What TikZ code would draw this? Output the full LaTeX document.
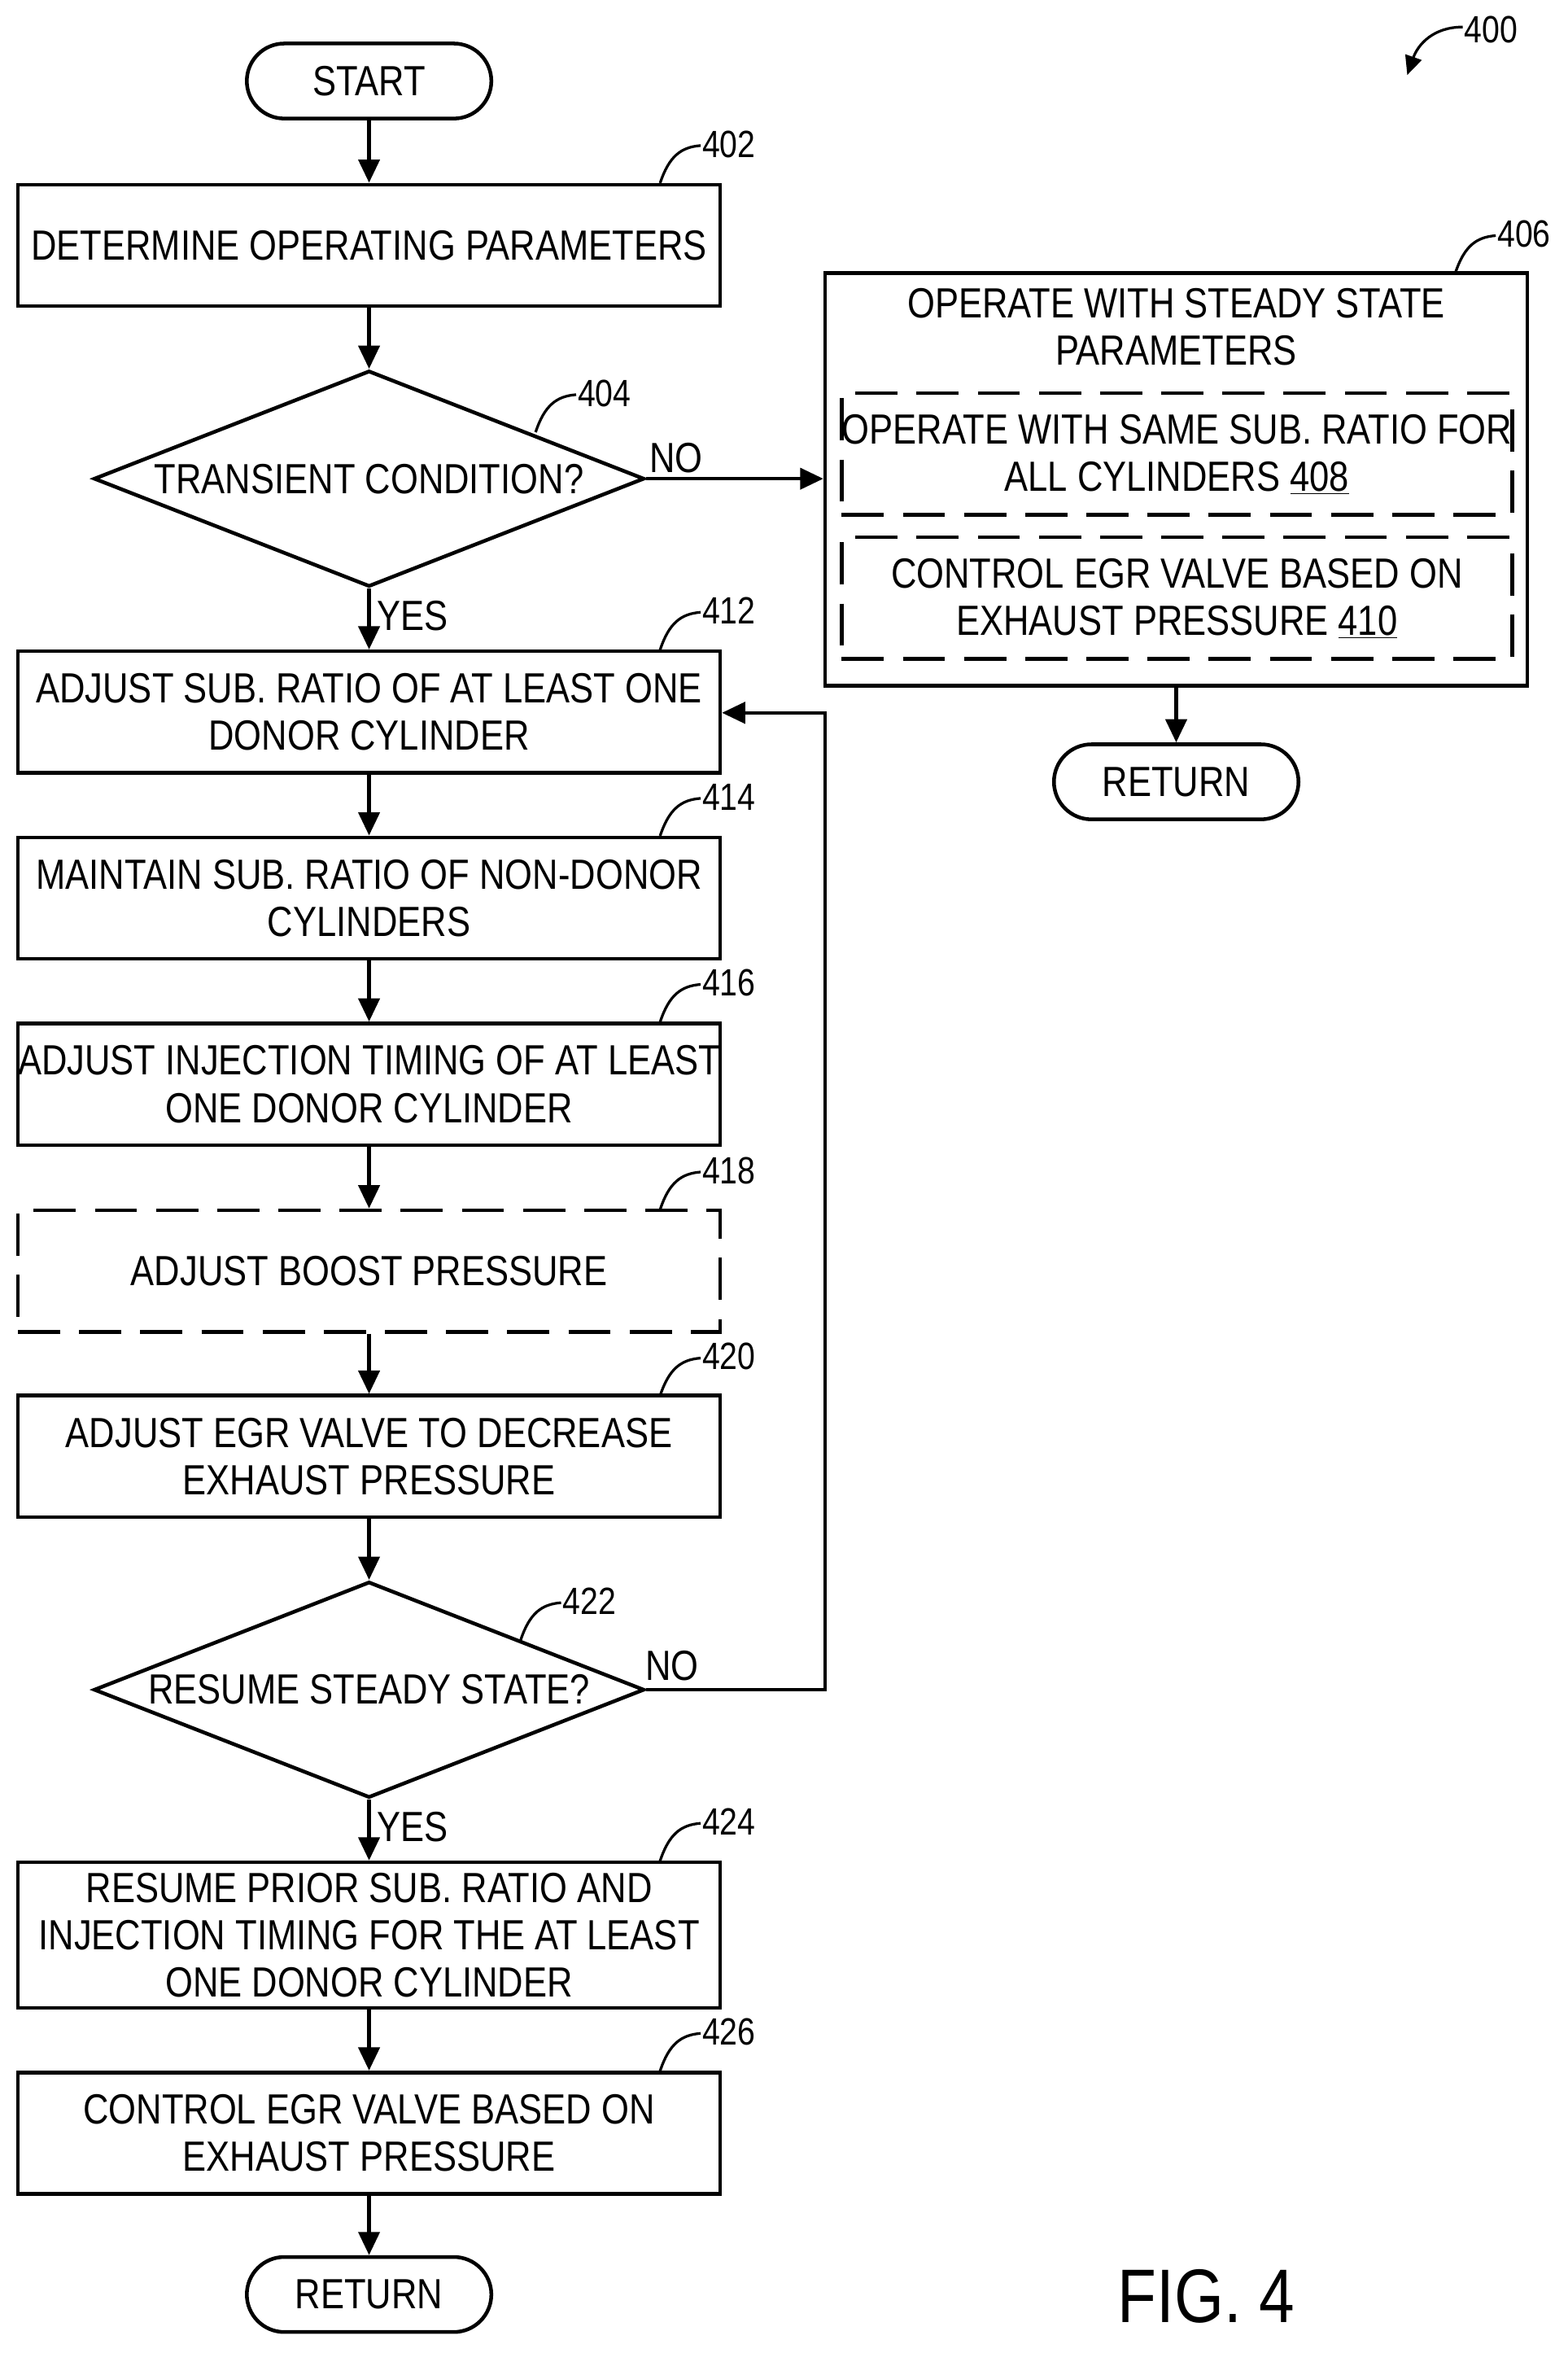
\documentclass[tikz,border=0pt]{standalone}
\usepackage{fontspec}
\setmainfont{Liberation Sans}[FakeStretch=0.84]
\usetikzlibrary{shapes.geometric,arrows.meta}
\begin{document}
\begin{tikzpicture}[x=0.05cm,y=-0.05cm,
  every node/.style={font=\fontsize{40}{45}\selectfont, align=center, inner sep=0pt},
  line/.style={line width=3.5pt},
  box/.style={line, draw, minimum width=23.4cm, minimum height=4.05cm},
  dbox/.style={box, dashed, dash pattern=on 40pt off 18pt},
  pill/.style={line, draw, rounded corners=1.25cm, minimum width=8.15cm, minimum height=2.5cm},
  dia/.style={line, draw, diamond, aspect=2.55, minimum width=18.35cm, minimum height=7.2cm},
  arr/.style={line, -{Triangle[length=22pt,width=20pt]}},
  lead/.style={line width=2.5pt},
  num/.style={font=\fontsize{36}{40}\selectfont, anchor=west}]
\useasboundingbox (0,0) rectangle (1045,1568);
\newcommand{\leader}[3]{\draw[lead] (#1,#2) .. controls (#1+6,#2-18) and (#1+14,#2-24) .. (#1+27,#2-25); \node[num] at (#1+28,#2-26) {#3};}
\node[pill] (start) at (246,54) {START};
\node[box] (b402) at (246,163.5) {DETERMINE OPERATING PARAMETERS};
\node[dia] (d404) at (246,319) {TRANSIENT CONDITION?};
\node[box, minimum height=13.75cm] (b406) at (784,319.5) {};
\node (t406) at (784,218) {OPERATE WITH STEADY STATE\\PARAMETERS};
\node[dbox, minimum width=22.35cm] (b408) at (784.5,302.5) {OPERATE WITH SAME SUB. RATIO FOR\\ALL CYLINDERS \underline{408}};
\node[dbox, minimum width=22.35cm] (b410) at (784.5,398.5) {CONTROL EGR VALVE BASED ON\\EXHAUST PRESSURE \underline{410}};
\node[pill] (ret1) at (784,521) {RETURN};
\node[box] (b412) at (246,474.5) {ADJUST SUB. RATIO OF AT LEAST ONE\\DONOR CYLINDER};
\node[box] (b414) at (246,598.5) {MAINTAIN SUB. RATIO OF NON-DONOR\\CYLINDERS};
\node[box] (b416) at (246,722.5) {ADJUST INJECTION TIMING OF AT LEAST\\ONE DONOR CYLINDER};
\node[dbox] (b418) at (246,847) {ADJUST BOOST PRESSURE};
\node[box] (b420) at (246,970.5) {ADJUST EGR VALVE TO DECREASE\\EXHAUST PRESSURE};
\node[dia] (d422) at (246,1126) {RESUME STEADY STATE?};
\node[box, minimum height=4.85cm] (b424) at (246,1289.5) {RESUME PRIOR SUB. RATIO AND\\INJECTION TIMING FOR THE AT LEAST\\ONE DONOR CYLINDER};
\node[box] (b426) at (246,1421.5) {CONTROL EGR VALVE BASED ON\\EXHAUST PRESSURE};
\node[pill] (ret2) at (246,1529) {RETURN};
\node[font=\fontsize{72}{80}\selectfont] (fig) at (804,1530) {FIG. 4};
\draw[arr] (start) -- (b402);
\draw[arr] (b402) -- (d404);
\draw[arr] (d404.east) -- (b406.west |- d404.east) node[pos=0.17, above=4pt] {NO};
\draw[arr] (d404) -- (b412) node[pos=0.45, right=6pt] {YES};
\draw[arr] (b406) -- (ret1);
\draw[arr] (b412) -- (b414);
\draw[arr] (b414) -- (b416);
\draw[arr] (b416) -- (b418);
\draw[arr] (b418) -- (b420);
\draw[arr] (b420) -- (d422);
\coordinate (c1) at (550,1126);
\coordinate (c2) at (550,475);
\draw[arr] (d422.east) -- (c1) -- (c2) -- (b412.east |- c2);
\node at (448,1110) {NO};
\draw[arr] (d422) -- (b424) node[pos=0.45, right=6pt] {YES};
\draw[arr] (b424) -- (b426);
\draw[arr] (b426) -- (ret2);
\leader{440}{122}{402}
\leader{357}{288}{404}
\leader{970}{182}{406}
\leader{440}{433}{412}
\leader{440}{557}{414}
\leader{440}{681}{416}
\leader{440}{806}{418}
\leader{440}{930}{420}
\leader{347}{1093}{422}
\leader{440}{1240}{424}
\leader{440}{1380}{426}
\node[num] (n400) at (976,20) {400};
\draw[lead, -{Triangle[length=18pt,width=16pt]}] (975,18) .. controls (955,18) and (945,30) .. (938,50);
\end{tikzpicture}
\end{document}
